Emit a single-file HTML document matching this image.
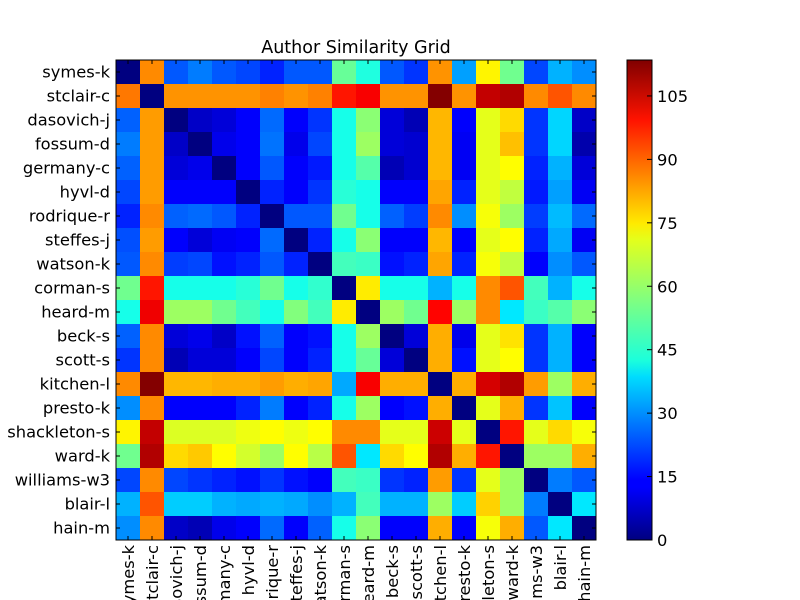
<!DOCTYPE html>
<html><head><meta charset="utf-8"><style>
html,body{margin:0;background:#fff;width:800px;height:600px;overflow:hidden;}
svg{display:block;}
svg text{font-family:"DejaVu Sans","Liberation Sans",sans-serif;fill:#000;}
</style></head><body>
<svg id="chart" width="800" height="600" xmlns="http://www.w3.org/2000/svg">
<defs><linearGradient id="jet" x1="0" y1="1" x2="0" y2="0">
<stop offset="0" stop-color="#000080"/><stop offset="0.11" stop-color="#0000ff"/><stop offset="0.125" stop-color="#0000ff"/><stop offset="0.34" stop-color="#00dcfe"/><stop offset="0.375" stop-color="#1cffdb"/><stop offset="0.5" stop-color="#80ff80"/><stop offset="0.625" stop-color="#e3ff1c"/><stop offset="0.66" stop-color="#ffea00"/><stop offset="0.875" stop-color="#ff1300"/><stop offset="1" stop-color="#800000"/>
</linearGradient></defs>
<text x="356" y="53" text-anchor="middle" font-size="17.5">Author Similarity Grid</text>
<g id="cells"></g><g id="ticks"></g><g id="labels"></g>
<rect x="116" y="60" width="480" height="480" fill="none" stroke="#000" stroke-width="1"/>
<rect x="627" y="60" width="25" height="480" fill="url(#jet)" stroke="#000" stroke-width="1"/>
<g id="cbticks"></g>
</svg>
<script>
const authors=["symes-k","stclair-c","dasovich-j","fossum-d","germany-c","hyvl-d","rodrique-r","steffes-j","watson-k","corman-s","heard-m","beck-s","scott-s","kitchen-l","presto-k","shackleton-s","ward-k","williams-w3","blair-l","hain-m"];
const values=[
[0,84,24,28,24,22,18,24,24,54,46,24,20,83,32,72,55,22,34,30],
[86,0,83,83,83,83,85,83,85,97,100,83,83,113,83,106,108,84,90,84],
[25,82,0,8,10,14,26,14,20,45,58,10,6,79,14,68,75,20,38,8],
[28,82,8,0,12,14,27,12,22,45,60,10,9,79,13,68,78,20,38,5],
[25,82,10,12,0,14,24,14,17,45,52,6,9,79,13,68,71,18,34,10],
[22,82,14,14,14,0,18,14,20,47,45,14,14,81,18,68,64,17,32,13],
[18,84,25,26,24,18,0,24,24,55,45,25,21,84,30,70,60,21,35,26],
[23,82,14,10,13,14,26,0,18,45,58,14,14,79,14,68,71,18,33,13],
[24,84,21,22,16,18,24,18,0,50,49,16,18,81,18,70,64,14,30,24],
[55,97,45,45,45,47,55,45,48,0,73,45,45,34,45,84,90,50,34,45],
[45,101,60,60,55,50,45,57,50,73,0,60,55,99,60,84,40,49,52,58],
[25,84,10,12,8,16,25,14,16,45,60,0,10,80,12,68,74,20,34,14],
[20,84,6,10,10,14,22,14,18,45,54,10,0,80,16,68,71,20,34,14],
[84,113,79,79,80,80,82,80,81,33,100,80,80,0,80,104,108,82,60,80],
[30,84,14,14,14,18,28,14,18,45,60,14,16,80,0,68,80,20,36,14],
[72,106,67,67,67,69,71,69,71,84,84,68,68,105,68,0,97,68,75,70],
[55,108,75,77,71,66,60,71,63,90,40,75,71,108,80,97,0,60,60,80],
[22,84,22,20,18,16,20,16,14,50,49,20,18,82,20,68,60,0,28,24],
[34,90,37,37,34,33,34,33,30,34,50,34,34,60,37,76,60,28,0,40],
[30,84,8,6,12,14,26,14,25,45,58,14,14,80,14,70,80,24,40,0]];
const cbTicks=[0,15,30,45,60,75,90,105];
const vmax=113.5;
const X0=116,Y0=60,S=480,n=authors.length,cw=S/n;
const ns="http://www.w3.org/2000/svg";
function xPos(i){return X0+i*cw;}
function yPos(j){return Y0+j*cw;}
function cbY(v){return 540-v/vmax*480;}
function cl(x){return Math.max(0,Math.min(1,x));}
function jet(v){const f=cl(v/vmax);
const r=cl(1.5-Math.abs(4*f-3)),g=cl(1.5-Math.abs(4*f-2)),b=cl(1.5-Math.abs(4*f-1));
return `rgb(${Math.round(r*255)},${Math.round(g*255)},${Math.round(b*255)})`;}
function mk(t,a,p){const e=document.createElementNS(ns,t);for(const k in a)e.setAttribute(k,a[k]);p.appendChild(e);return e;}
const cells=document.getElementById('cells'),ticks=document.getElementById('ticks'),labels=document.getElementById('labels'),cbt=document.getElementById('cbticks');
values.forEach((row,j)=>row.forEach((v,i)=>{
const r=mk('rect',{x:xPos(i),y:yPos(j),width:cw+0.3,height:cw+0.3,fill:jet(v)},cells);


}));
authors.forEach((a,i)=>{
const c=xPos(i)+cw/2;
mk('line',{x1:c,y1:Y0,x2:c,y2:Y0+4,stroke:'#000'},ticks);
mk('line',{x1:c,y1:Y0+S,x2:c,y2:Y0+S-4,stroke:'#000'},ticks);
const cy=yPos(i)+cw/2;
mk('line',{x1:X0,y1:cy,x2:X0+4,y2:cy,stroke:'#000'},ticks);
mk('line',{x1:X0+S,y1:cy,x2:X0+S-4,y2:cy,stroke:'#000'},ticks);
const yl=mk('text',{x:110,y:cy+5.5,'text-anchor':'end','font-size':'16.3'},labels);
yl.textContent=a;


const xl=mk('text',{x:0,y:0,'text-anchor':'end','font-size':'16.3',transform:`translate(${c+6},545) rotate(-90)`},labels);
xl.textContent=a;


});
cbTicks.forEach(t=>{
const y=cbY(t);
mk('line',{x1:647,y1:y,x2:652,y2:y,stroke:'#000'},cbt);
const tl=mk('text',{x:657,y:y+6,'font-size':'16.3'},cbt);
tl.textContent=t;


});
</script>
</body></html>
